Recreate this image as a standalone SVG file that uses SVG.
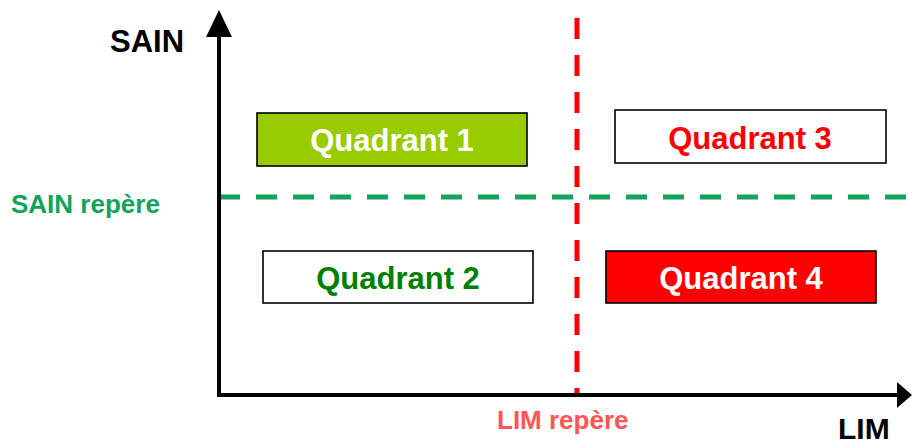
<svg xmlns="http://www.w3.org/2000/svg" width="912" height="445" viewBox="0 0 912 445">
<style>
.ax{stroke:#000;stroke-width:4;fill:none}
.box{stroke:#000;stroke-width:1.6}
.qt{font-family:"Liberation Sans",Arial,sans-serif;font-weight:bold;font-size:31px;text-anchor:middle}
.lbl{font-family:"Liberation Sans",Arial,sans-serif;font-weight:bold}
</style>
<rect width="912" height="445" fill="#fff"/>
<g id="connectors">
<line x1="577" y1="18" x2="577" y2="395" stroke="#ff0000" stroke-width="5" stroke-dasharray="21,16"/>
<line x1="219" y1="197" x2="912" y2="197" stroke="#14a35a" stroke-width="5" stroke-dasharray="21,16"/>
<line class="ax" x1="219" y1="395" x2="219" y2="34"/>
<polygon points="219,10 206,37 232,37" fill="#000"/>
<line class="ax" x1="217" y1="395" x2="899" y2="395"/>
<polygon points="912,395 897,382 897,408" fill="#000"/>
</g>
<g id="q1"><rect class="box" x="257" y="113" width="270" height="53" fill="#99cc00"/><text class="qt" x="392" y="151" fill="#fff">Quadrant 1</text></g>
<g id="q3"><rect class="box" x="615" y="110" width="271" height="53" fill="#fff"/><text class="qt" x="750" y="149" fill="#ff0000">Quadrant 3</text></g>
<g id="q2"><rect class="box" x="263" y="251" width="270" height="52" fill="#fff"/><text class="qt" x="398" y="289" fill="#008000">Quadrant 2</text></g>
<g id="q4"><rect class="box" x="606" y="251" width="270" height="52" fill="#ff0000"/><text class="qt" x="741" y="289" fill="#fff">Quadrant 4</text></g>
<g id="labels">
<text class="lbl" x="110" y="52" font-size="31" fill="#000">SAIN</text>
<text class="lbl" x="838" y="439" font-size="30" fill="#000">LIM</text>
<text class="lbl" x="11" y="213" font-size="26" fill="#14a35a">SAIN repère</text>
<text class="lbl" x="497" y="429" font-size="26" fill="#ff5555">LIM repère</text>
</g>
</svg>
